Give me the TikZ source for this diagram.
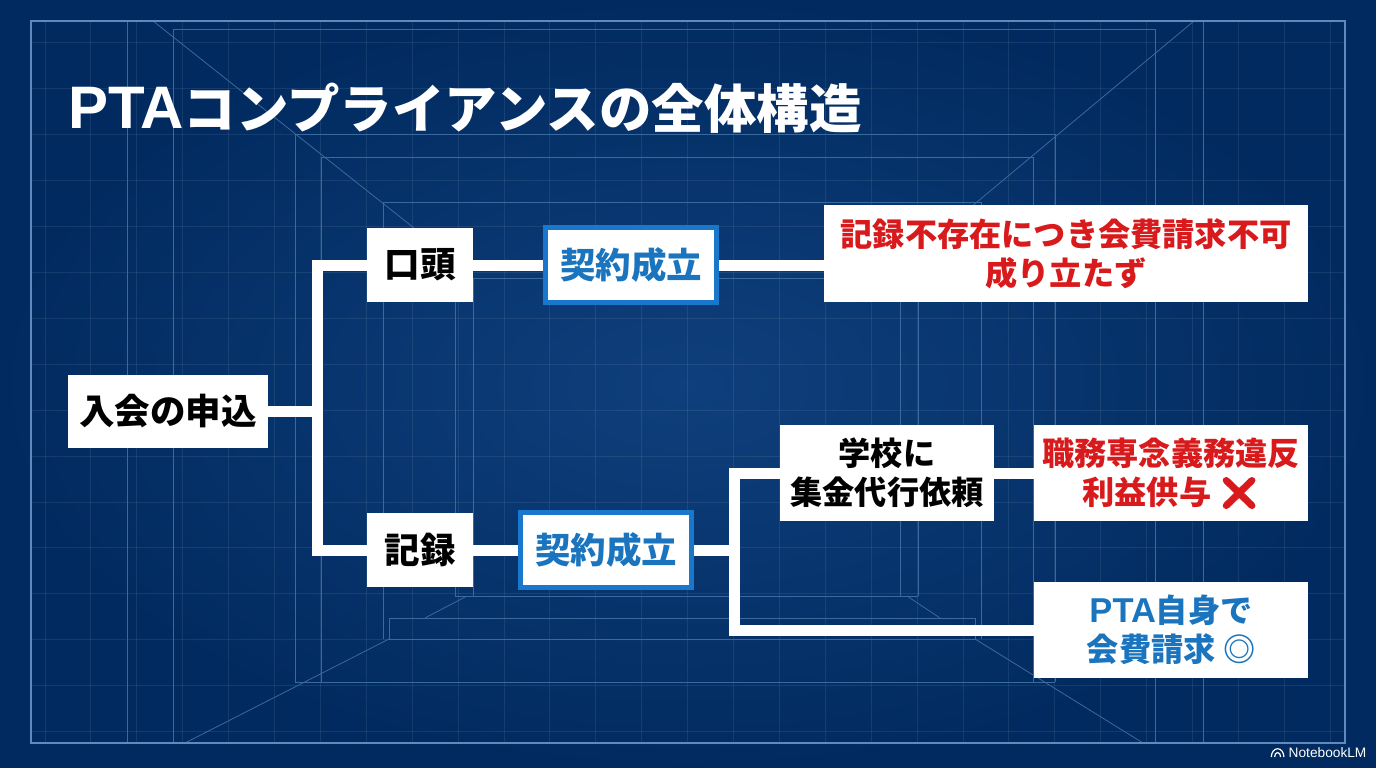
\documentclass[tikz,border=0pt]{standalone}
\usepackage{fontspec}
\setmainfont{Noto Sans CJK JP}
\newfontfamily\emojifont[FakeBold=2.5]{Noto Emoji}
\newfontfamily\logofont{Liberation Sans}
\newcommand{\lat}[2]{{\logofont\fontsize{#1}{#1}\selectfont #2}}
\definecolor{bgin}{HTML}{0F3F7C}
\definecolor{bgout}{HTML}{012B60}
\definecolor{kblue}{HTML}{1A75BE}
\definecolor{kborder}{HTML}{1A78CC}
\definecolor{kred}{HTML}{D81A1C}
\definecolor{lframe}{HTML}{5F8ABC}
\definecolor{lstruct}{HTML}{3A699E}
\definecolor{lgrid}{HTML}{FFFFFF}
\tikzset{
  framel/.style={draw=lframe,line width=1.3pt},
  structl/.style={draw=lstruct,line width=1pt},
  gridl/.style={draw=lgrid,draw opacity=0.08,line width=1pt},
  box/.style={fill=white,inner sep=0pt,align=center,font=\bfseries\fontsize{32.2}{39}\selectfont},
  bigbox/.style={box,font=\bfseries\fontsize{35.5}{40}\selectfont},
  keiyaku/.style={bigbox,draw=kborder,line width=5pt,text=kblue,minimum width=171pt,minimum height=75pt},
  conn/.style={draw=white,line width=11pt,line join=miter}
}
\begin{document}
\begin{tikzpicture}[x=1pt,y=-1pt]
\useasboundingbox (0,0) rectangle (1376,768);
\shade[inner color=bgin,outer color=bgout] (0,0) rectangle (1376,768);
% grid
\foreach \k in {0,...,28} \draw[gridl] ({45+45.9*\k},21) -- ({45+45.9*\k},743);
\foreach \k in {0,...,15} \draw[gridl] (31,{43+45.9*\k}) -- (1345,{43+45.9*\k});
% perspective structure
\draw[structl] (127.6,21) -- (127.6,743);
\draw[structl] (1203,21) -- (1203,743);
\draw[structl] (173,743) -- (173,30) -- (1155,30) -- (1155,743);
\draw[structl] (295,682) -- (295,134) -- (1055,134) -- (1055,682);
\draw[structl] (321,682) -- (321,157) -- (1033,157) -- (1033,682);
\draw[structl] (295,682) -- (1055,682);
\draw[structl] (383,639) -- (383,202) -- (981,202) -- (981,639);
\draw[structl] (455,596) -- (455,278) -- (918,278) -- (918,596);
\draw[structl] (473,596) -- (473,278);
\draw[structl] (900,596) -- (900,278);
\draw[structl] (455,596) -- (918,596);
\draw[structl] (389,618) -- (975,618) -- (975,639) -- (389,639) -- cycle;
\draw[structl,line width=.8pt] (153,21) -- (414,228);
\draw[structl,line width=.8pt] (1194,21) -- (965,212);
\draw[structl,line width=.8pt] (185,743) -- (389,639);
\draw[structl,line width=.8pt] (425,618) -- (467,596);
\draw[structl,line width=.8pt] (907,596) -- (940,618);
\draw[structl,line width=.8pt] (975,639) -- (1143,743);
\draw[framel] (31,21) rectangle (1345,743);
% title
\node[anchor=base west,inner sep=0pt,text=white,font=\bfseries\fontsize{52.5}{52}\selectfont] (title) at (68,128.5) {\lat{60}{PTA}コンプライアンスの全体構造};
% boxes
\node[bigbox,minimum width=200pt,minimum height=73pt] (apply) at (168,411.5) {入会の申込};
\node[bigbox,minimum width=106pt,minimum height=74pt] (oral) at (420,265) {口頭};
\node[bigbox,minimum width=106pt,minimum height=74pt] (rec) at (420,550) {記録};
\node[keiyaku] (k1) at (631,265) {契約成立};
\node[keiyaku] (k2) at (606,550) {契約成立};
\node[box,text=kred,minimum width=484pt,minimum height=97pt] (none) at (1066,253.5) {記録不存在につき会費請求不可\\成り立たず};
\node[box,minimum width=214pt,minimum height=96pt] (school) at (887,473) {学校に\\集金代行依頼};
\node[box,text=kred,minimum width=274pt,minimum height=96pt] (viol) at (1171,473) {職務専念義務違反\\利益供与 {\emojifont ❌}};
\node[box,text=kblue,minimum width=274pt,minimum height=96pt] (self) at (1171,630) {\lat{34.5}{PTA}自身で\\会費請求 ◎};
% connectors
\coordinate (j1) at (317.5,411.5);
\coordinate (j2) at (734.5,550);
\draw[conn] (apply.east) -- (j1);
\draw[conn] (oral.west) -| (j1) |- (rec.west);
\draw[conn] (oral.east) -- (k1.west);
\draw[conn] (k1.east) -- (k1.east -| none.west);
\draw[conn] (rec.east) -- (k2.west);
\draw[conn] (k2.east) -- (j2);
\draw[conn] (school.west) -| (j2) |- (self.west);
\draw[conn] (school.east) -- (viol.west);
% logo
\node[anchor=base west,inner sep=0pt,text=white,font=\logofont\fontsize{13.7}{14}\selectfont] (logo) at (1288.5,757) {NotebookLM};
\draw[white,line width=1.2pt] (1271.3,757) arc[start angle=180,end angle=360,x radius=6.3,y radius=8.3];
\draw[white,line width=1.2pt] (1274.6,757) arc[start angle=180,end angle=360,x radius=3,y radius=4.5];
\end{tikzpicture}
\end{document}
